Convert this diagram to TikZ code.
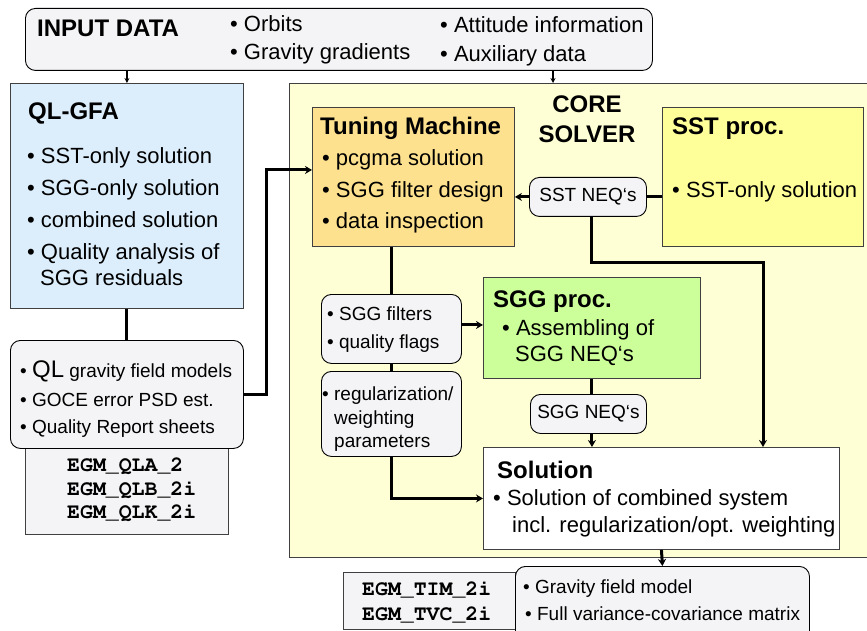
\documentclass[tikz,border=0pt]{standalone}
\usepackage[T1]{fontenc}
\usepackage{fontspec}
\setmainfont{Liberation Sans}
\setmonofont{Liberation Mono}
\usetikzlibrary{arrows.meta}

\definecolor{qlblue}{RGB}{220,238,252}
\definecolor{coreyellow}{RGB}{255,255,214}
\definecolor{tunorange}{RGB}{254,225,142}
\definecolor{sstyellow}{RGB}{255,255,153}
\definecolor{sgggreen}{RGB}{204,255,153}
\definecolor{boxgray}{RGB}{244,244,246}

\newcommand{\ttl}{\fontsize{24}{28}\selectfont\bfseries}
\newcommand{\bdy}{\fontsize{22}{26}\selectfont}
\newcommand{\sml}{\fontsize{19}{22}\selectfont}
\newcommand{\egm}{\fontencoding{T1}\fontfamily{pcr}\fontseries{b}\fontsize{21.5}{25}\selectfont}

\begin{document}
\begin{tikzpicture}[x=1pt, y=-1pt,
    blk/.style={draw=black!75, line width=0.9pt, anchor=north west, inner sep=0pt},
    rnd/.style={blk, draw=black, rounded corners=10pt, fill=boxgray},
    txt/.style={anchor=base west, inner sep=0pt},
    conn/.style={line width=3pt},
    arr/.style={conn, -{Stealth[length=7pt,width=8pt]}},
    thinarr/.style={line width=1.2pt, -{Stealth[length=5pt,width=5pt]}}]
    \useasboundingbox (0,0) rectangle (867,631);
    \clip (0,0) rectangle (867,631);

    % boxes
    \node[rnd, minimum width=627pt, minimum height=62pt] (inp) at (25,8) {};
    \node[blk, fill=qlblue, minimum width=233pt, minimum height=225pt] (qlgfa) at (10,83) {};
    \node[blk, fill=coreyellow, minimum width=581pt, minimum height=474pt] (core) at (289,83) {};
    \node[blk, fill=tunorange, minimum width=202pt, minimum height=139pt] (tun) at (312,107) {};
    \node[blk, fill=sstyellow, minimum width=201pt, minimum height=139pt] (sstp) at (662,107) {};
    \node[rnd, minimum width=117pt, minimum height=39pt] (sstneq) at (529,177) {\sml SST NEQ‘s};
    \node[rnd, minimum width=140pt, minimum height=69pt] (sggf) at (321,294) {};
    \node[rnd, minimum width=140pt, minimum height=85pt] (reg) at (321,371) {};
    \node[blk, fill=sgggreen, minimum width=217pt, minimum height=101pt] (sggp) at (483,277) {};
    \node[rnd, minimum width=116pt, minimum height=39pt] (sggneq) at (530,394) {\sml SGG NEQ‘s};
    \node[blk, fill=white, minimum width=356pt, minimum height=102pt] (sol) at (483,447) {};
    \node[blk, fill=boxgray, minimum width=203pt, minimum height=86pt] (egmql) at (25,448) {};
    \node[rnd, minimum width=233pt, minimum height=108pt] (ql) at (10,340) {};
    \node[blk, fill=boxgray, minimum width=172pt, minimum height=57pt] (egmtim) at (343,572) {};
    \node[rnd, minimum width=294pt, minimum height=75pt] (out) at (515,566) {};

    % connectors
    \coordinate (inR) at (553,0);
    \coordinate (sstR) at (763,262);
    \draw[thinarr] (inp.south -| qlgfa.north) -- (qlgfa.north);
    \draw[thinarr] (inp.south -| inR) -- (core.north -| inR);
    \draw[conn] (qlgfa.south) -- (ql.north);
    \draw[arr] (ql.east) -- ++(23,0) |- ([yshift=7pt]tun.west);
    \draw[arr] (sstneq.west) -- (tun.east |- sstneq.west);
    \draw[conn] (sstneq.east) -- (sstp.west |- sstneq.east);
    \draw[arr] ([xshift=4pt]sstneq.south) |- (sstR) -- (sol.north -| sstR);
    \draw[conn] (tun.south -| sggf.north) -- (sggf.north);
    \draw[arr] ([yshift=4pt]sggf.east) -- ([yshift=4pt]sggf.east -| sggp.west);
    \draw[conn] (sggf.south) -- (reg.north);
    \draw[arr] (reg.south) |- (sol.west);
    \draw[conn] (sggp.south) -- (sggp.south |- sggneq.north);
    \draw[arr] (sggneq.south -| sggp.south) -- (sol.north -| sggp.south);
    \draw[arr] (sol.south) -- (out.north);

    % input data
    \node[txt] (tInp) at (37,37) {\ttl INPUT DATA};
    \node[txt] (iOrb) at (230,32) {\bdy • Orbits};
    \node[txt] (iGrav) at (230,60) {\bdy • Gravity gradients};
    \node[txt] (iAtt) at (440,33) {\bdy • Attitude information};
    \node[txt] (iAux) at (440,62) {\bdy • Auxiliary data};

    % QL-GFA
    \node[txt] (tQl) at (28,120) {\ttl QL-GFA};
    \node[txt] (q1) at (27,164) {\bdy • SST-only solution};
    \node[txt] (q2) at (27,196) {\bdy • SGG-only solution};
    \node[txt] (q3) at (27,227) {\bdy • combined solution};
    \node[txt] (q4) at (27,259) {\bdy • Quality analysis of};
    \node[txt] (q5) at (40,285) {\bdy SGG residuals};

    \node[txt] (l1) at (20,377) {\sml • {\fontsize{24}{28}\selectfont QL} gravity field models};
    \node[txt] (l2) at (20,406) {\sml • GOCE error PSD est.};
    \node[txt] (l3) at (20,433) {\sml • Quality Report sheets};
    \node[txt] (e1) at (67,471) {\egm EGM\_QLA\_2};
    \node[txt] (e2) at (67,495) {\egm EGM\_QLB\_2i};
    \node[txt] (e3) at (67,518) {\egm EGM\_QLK\_2i};

    % core solver
    \node[anchor=base, inner sep=0pt] (tCore) at (587,113) {\ttl CORE};
    \node[anchor=base, inner sep=0pt] (tSolv) at (587,143) {\ttl SOLVER};
    \node[txt] (tTun) at (320,135) {\ttl Tuning Machine};
    \node[txt] (t1) at (322,166) {\bdy • pcgma solution};
    \node[txt] (t2) at (322,197) {\bdy • SGG filter design};
    \node[txt] (t3) at (322,228) {\bdy • data inspection};
    \node[txt] (tSst) at (672,135) {\ttl SST proc.};
    \node[txt] (s1) at (672,197) {\bdy • SST-only solution};

    \node[txt] (f1) at (327,320) {\sml • SGG filters};
    \node[txt] (f2) at (327,348) {\sml • quality flags};
    \node[txt] (r1) at (322,400) {\sml • regularization/};
    \node[txt] (r2) at (334,424) {\sml weighting};
    \node[txt] (r3) at (334,447) {\sml parameters};

    \node[txt] (tSgg) at (493,307) {\ttl SGG proc.};
    \node[txt] (g1) at (502,335) {\bdy • Assembling of};
    \node[txt] (g2) at (515,361) {\bdy SGG NEQ‘s};

    \node[txt] (tSol) at (497,478) {\ttl Solution};
    \node[txt] (o1) at (493,505) {\bdy • Solution of combined system};
    \node[txt] (o2) at (512,532) {\bdy incl. regularization/opt. weighting};

    % output
    \node[txt] (u1) at (523,593) {\sml • Gravity field model};
    \node[txt] (u2) at (525,620) {\sml • Full variance-covariance matrix};
    \node[txt] (m1) at (362,595) {\egm EGM\_TIM\_2i};
    \node[txt] (m2) at (362,620) {\egm EGM\_TVC\_2i};
\end{tikzpicture}
\end{document}
